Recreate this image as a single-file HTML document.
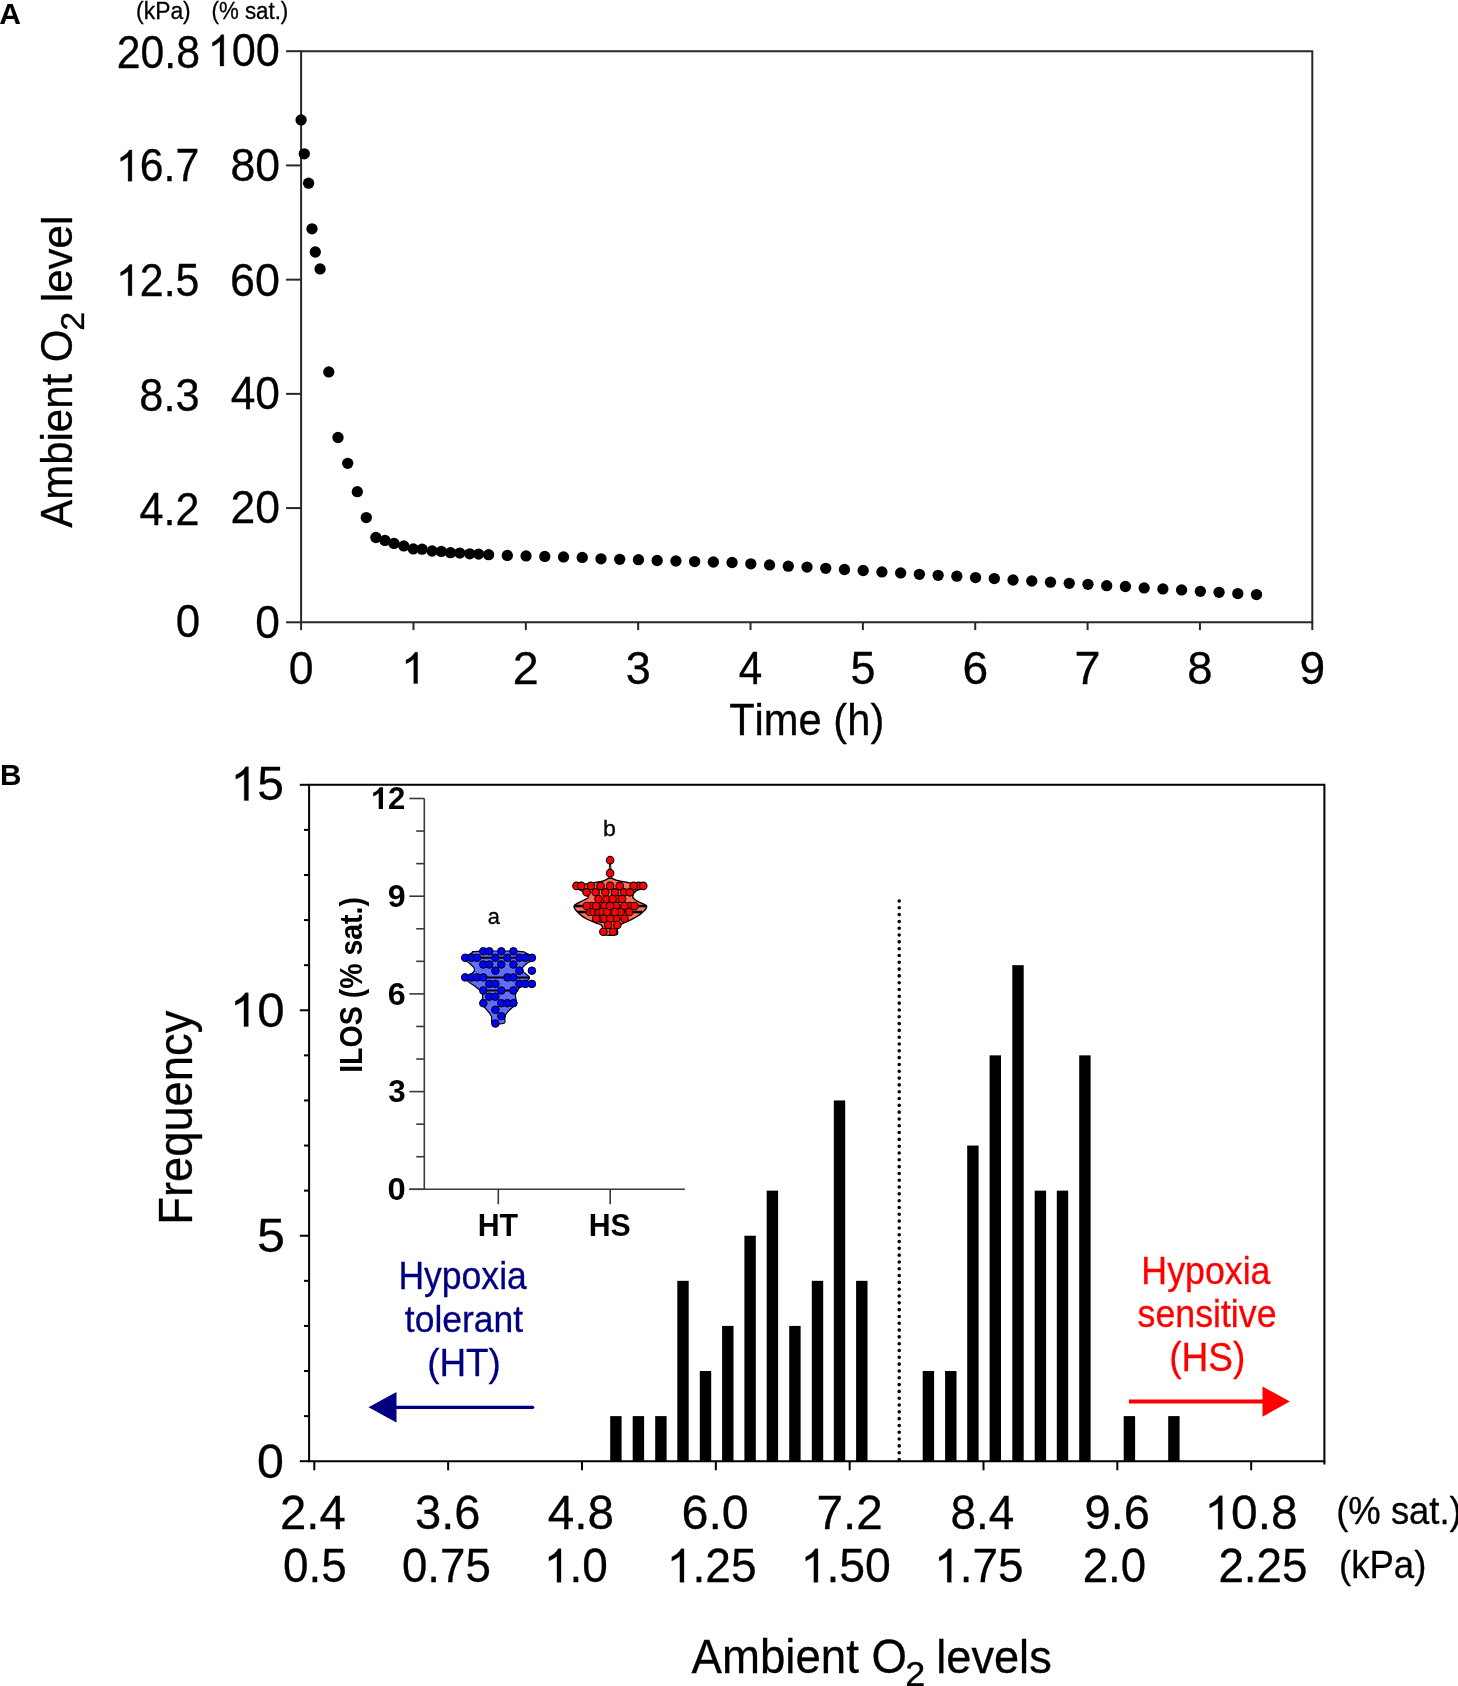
<!DOCTYPE html>
<html><head><meta charset="utf-8"><style>
html,body{margin:0;padding:0;background:#fff;}
svg{display:block;will-change:transform;}
text{font-family:"Liberation Sans",sans-serif;font-kerning:none;}
</style></head><body>
<svg width="1458" height="1686" viewBox="0 0 1458 1686">
<rect width="1458" height="1686" fill="#fff"/>
<text x="-0.75" y="23.9" font-size="29.9" font-weight="bold" fill="#000" stroke="#000" stroke-width="0.0" textLength="21.74" lengthAdjust="spacingAndGlyphs" xml:space="preserve">A</text>
<text x="136.08" y="18.7" font-size="23.5" font-weight="normal" fill="#000" stroke="#000" stroke-width="0.3" textLength="54.64" lengthAdjust="spacingAndGlyphs" xml:space="preserve">(kPa)</text>
<text x="211.52" y="18.7" font-size="23.5" font-weight="normal" fill="#000" stroke="#000" stroke-width="0.3" textLength="76.76" lengthAdjust="spacingAndGlyphs" xml:space="preserve">(% sat.)</text>
<path d="M301.1,51.2 H1312.3 V622.3 H301.1 Z" fill="none" stroke="#282828" stroke-width="2"/>
<line x1="286.1" y1="622.3" x2="301.1" y2="622.3" stroke="#282828" stroke-width="2" />
<line x1="286.1" y1="508.08" x2="301.1" y2="508.08" stroke="#282828" stroke-width="2" />
<line x1="286.1" y1="393.86" x2="301.1" y2="393.86" stroke="#282828" stroke-width="2" />
<line x1="286.1" y1="279.64" x2="301.1" y2="279.64" stroke="#282828" stroke-width="2" />
<line x1="286.1" y1="165.42" x2="301.1" y2="165.42" stroke="#282828" stroke-width="2" />
<line x1="286.1" y1="51.2" x2="301.1" y2="51.2" stroke="#282828" stroke-width="2" />
<line x1="301.1" y1="622.3" x2="301.1" y2="630.1" stroke="#282828" stroke-width="2" />
<line x1="413.46" y1="622.3" x2="413.46" y2="630.1" stroke="#282828" stroke-width="2" />
<line x1="525.81" y1="622.3" x2="525.81" y2="630.1" stroke="#282828" stroke-width="2" />
<line x1="638.17" y1="622.3" x2="638.17" y2="630.1" stroke="#282828" stroke-width="2" />
<line x1="750.52" y1="622.3" x2="750.52" y2="630.1" stroke="#282828" stroke-width="2" />
<line x1="862.88" y1="622.3" x2="862.88" y2="630.1" stroke="#282828" stroke-width="2" />
<line x1="975.23" y1="622.3" x2="975.23" y2="630.1" stroke="#282828" stroke-width="2" />
<line x1="1087.59" y1="622.3" x2="1087.59" y2="630.1" stroke="#282828" stroke-width="2" />
<line x1="1199.94" y1="622.3" x2="1199.94" y2="630.1" stroke="#282828" stroke-width="2" />
<line x1="1312.3" y1="622.3" x2="1312.3" y2="630.1" stroke="#282828" stroke-width="2" />
<text x="116.75" y="68.3" font-size="45.5" font-weight="normal" fill="#000" stroke="#000" stroke-width="0.3" textLength="83.21" lengthAdjust="spacingAndGlyphs" xml:space="preserve">20.8</text>
<path transform="translate(115.94,181.2) scale(0.02090,-0.02135)" d="M763,0 L583,0 L583,1147 Q518,1085 412,1023 Q305,961 223,930 L223,1104 Q371,1174 482,1273 Q593,1372 639,1466 L763,1466 Z" fill="#000" stroke="#000" stroke-width="0.3" vector-effect="non-scaling-stroke"/>
<text x="139.75" y="181.2" font-size="45.5" font-weight="normal" fill="#000" stroke="#000" stroke-width="0.3" textLength="59.51" lengthAdjust="spacingAndGlyphs" xml:space="preserve">6.7</text>
<path transform="translate(115.92,295.7) scale(0.02097,-0.02135)" d="M763,0 L583,0 L583,1147 Q518,1085 412,1023 Q305,961 223,930 L223,1104 Q371,1174 482,1273 Q593,1372 639,1466 L763,1466 Z" fill="#000" stroke="#000" stroke-width="0.3" vector-effect="non-scaling-stroke"/>
<text x="139.81" y="295.7" font-size="45.5" font-weight="normal" fill="#000" stroke="#000" stroke-width="0.3" textLength="59.7" lengthAdjust="spacingAndGlyphs" xml:space="preserve">2.5</text>
<text x="139.32" y="410.8" font-size="45.5" font-weight="normal" fill="#000" stroke="#000" stroke-width="0.3" textLength="60.29" lengthAdjust="spacingAndGlyphs" xml:space="preserve">8.3</text>
<text x="139.51" y="525" font-size="45.5" font-weight="normal" fill="#000" stroke="#000" stroke-width="0.3" textLength="60.06" lengthAdjust="spacingAndGlyphs" xml:space="preserve">4.2</text>
<text x="175.78" y="637.3" font-size="45.5" font-weight="normal" fill="#000" stroke="#000" stroke-width="0.3" textLength="24.43" lengthAdjust="spacingAndGlyphs" xml:space="preserve">0</text>
<path transform="translate(207.7,66) scale(0.02110,-0.02135)" d="M763,0 L583,0 L583,1147 Q518,1085 412,1023 Q305,961 223,930 L223,1104 Q371,1174 482,1273 Q593,1372 639,1466 L763,1466 Z" fill="#000" stroke="#000" stroke-width="0.3" vector-effect="non-scaling-stroke"/>
<text x="231.73" y="66" font-size="45.5" font-weight="normal" fill="#000" stroke="#000" stroke-width="0.3" textLength="48.06" lengthAdjust="spacingAndGlyphs" xml:space="preserve">00</text>
<text x="230.46" y="181" font-size="45.5" font-weight="normal" fill="#000" stroke="#000" stroke-width="0.3" textLength="49.58" lengthAdjust="spacingAndGlyphs" xml:space="preserve">80</text>
<text x="230.12" y="295.6" font-size="45.5" font-weight="normal" fill="#000" stroke="#000" stroke-width="0.3" textLength="49.93" lengthAdjust="spacingAndGlyphs" xml:space="preserve">60</text>
<text x="230.68" y="409.4" font-size="45.5" font-weight="normal" fill="#000" stroke="#000" stroke-width="0.3" textLength="49.35" lengthAdjust="spacingAndGlyphs" xml:space="preserve">40</text>
<text x="230.56" y="523.3" font-size="45.5" font-weight="normal" fill="#000" stroke="#000" stroke-width="0.3" textLength="49.47" lengthAdjust="spacingAndGlyphs" xml:space="preserve">20</text>
<text x="255.37" y="638.3" font-size="45.5" font-weight="normal" fill="#000" stroke="#000" stroke-width="0.3" textLength="24.66" lengthAdjust="spacingAndGlyphs" xml:space="preserve">0</text>
<text x="288.71" y="683.6" font-size="45.5" font-weight="normal" fill="#000" stroke="#000" stroke-width="0.3" textLength="24.78" lengthAdjust="spacingAndGlyphs" xml:space="preserve">0</text>
<path transform="translate(401.18,683.6) scale(0.02155,-0.02135)" d="M763,0 L583,0 L583,1147 Q518,1085 412,1023 Q305,961 223,930 L223,1104 Q371,1174 482,1273 Q593,1372 639,1466 L763,1466 Z" fill="#000" stroke="#000" stroke-width="0.3" vector-effect="non-scaling-stroke"/>
<text x="512.81" y="683.6" font-size="45.5" font-weight="normal" fill="#000" stroke="#000" stroke-width="0.3" textLength="26" lengthAdjust="spacingAndGlyphs" xml:space="preserve">2</text>
<text x="625.67" y="683.6" font-size="45.5" font-weight="normal" fill="#000" stroke="#000" stroke-width="0.3" textLength="24.99" lengthAdjust="spacingAndGlyphs" xml:space="preserve">3</text>
<text x="738.77" y="683.6" font-size="45.5" font-weight="normal" fill="#000" stroke="#000" stroke-width="0.3" textLength="23.51" lengthAdjust="spacingAndGlyphs" xml:space="preserve">4</text>
<text x="850.39" y="683.6" font-size="45.5" font-weight="normal" fill="#000" stroke="#000" stroke-width="0.3" textLength="24.99" lengthAdjust="spacingAndGlyphs" xml:space="preserve">5</text>
<text x="962.4" y="683.6" font-size="45.5" font-weight="normal" fill="#000" stroke="#000" stroke-width="0.3" textLength="25.67" lengthAdjust="spacingAndGlyphs" xml:space="preserve">6</text>
<text x="1074.56" y="683.6" font-size="45.5" font-weight="normal" fill="#000" stroke="#000" stroke-width="0.3" textLength="26.06" lengthAdjust="spacingAndGlyphs" xml:space="preserve">7</text>
<text x="1187.32" y="683.6" font-size="45.5" font-weight="normal" fill="#000" stroke="#000" stroke-width="0.3" textLength="25.25" lengthAdjust="spacingAndGlyphs" xml:space="preserve">8</text>
<text x="1299.48" y="683.6" font-size="45.5" font-weight="normal" fill="#000" stroke="#000" stroke-width="0.3" textLength="25.65" lengthAdjust="spacingAndGlyphs" xml:space="preserve">9</text>
<text x="729.16" y="735.1" font-size="43.8" font-weight="normal" fill="#000" stroke="#000" stroke-width="0.3" textLength="155.12" lengthAdjust="spacingAndGlyphs" xml:space="preserve">Time (h)</text>
<text transform="translate(72.2,527.7) rotate(-90)" x="-0.08" y="0" font-size="45" font-weight="normal" fill="#000" stroke="#000" stroke-width="0.3" textLength="198.29" lengthAdjust="spacingAndGlyphs">Ambient O</text>
<text transform="translate(84,329) rotate(-90)" x="-1.72" y="0" font-size="33.5" font-weight="normal" fill="#000" stroke="#000" stroke-width="0.3" textLength="19.04" lengthAdjust="spacingAndGlyphs">2</text>
<text transform="translate(71.9,299.3) rotate(-90)" x="-2.83" y="0" font-size="43.3" font-weight="normal" fill="#000" stroke="#000" stroke-width="0.3" textLength="86.34" lengthAdjust="spacingAndGlyphs">level</text>
<g fill="#000">
<circle cx="301.1" cy="119.9" r="5.65"/>
<circle cx="304.3" cy="153.8" r="5.65"/>
<circle cx="308.6" cy="183.2" r="5.65"/>
<circle cx="312" cy="228.8" r="5.65"/>
<circle cx="315.3" cy="252" r="5.65"/>
<circle cx="320.1" cy="268.9" r="5.65"/>
<circle cx="328.8" cy="371.9" r="5.65"/>
<circle cx="338" cy="437.5" r="5.65"/>
<circle cx="347.7" cy="463.3" r="5.65"/>
<circle cx="357.3" cy="491.7" r="5.65"/>
<circle cx="366.3" cy="517.6" r="5.65"/>
<circle cx="375.9" cy="537.5" r="5.65"/>
<circle cx="385" cy="540.4" r="5.65"/>
<circle cx="394" cy="543.4" r="5.65"/>
<circle cx="403.8" cy="545.9" r="5.65"/>
<circle cx="413.3" cy="548.9" r="5.65"/>
<circle cx="422.1" cy="549.2" r="5.65"/>
<circle cx="432.1" cy="551" r="5.65"/>
<circle cx="441.3" cy="551.4" r="5.65"/>
<circle cx="450.5" cy="552.7" r="5.65"/>
<circle cx="459.8" cy="553.1" r="5.65"/>
<circle cx="469.7" cy="553.8" r="5.65"/>
<circle cx="478.6" cy="554.1" r="5.65"/>
<circle cx="488.6" cy="554.7" r="5.65"/>
<circle cx="507.33" cy="555.4" r="5.65"/>
<circle cx="526.06" cy="555.9" r="5.65"/>
<circle cx="544.79" cy="556.4" r="5.65"/>
<circle cx="563.52" cy="556.9" r="5.65"/>
<circle cx="582.25" cy="557.4" r="5.65"/>
<circle cx="600.98" cy="558.8" r="5.65"/>
<circle cx="619.71" cy="559.3" r="5.65"/>
<circle cx="638.44" cy="559.7" r="5.65"/>
<circle cx="657.17" cy="560.5" r="5.65"/>
<circle cx="675.9" cy="561" r="5.65"/>
<circle cx="694.63" cy="561.6" r="5.65"/>
<circle cx="713.36" cy="562" r="5.65"/>
<circle cx="732.09" cy="562.5" r="5.65"/>
<circle cx="750.82" cy="563.8" r="5.65"/>
<circle cx="769.55" cy="564.9" r="5.65"/>
<circle cx="788.28" cy="566.2" r="5.65"/>
<circle cx="807.01" cy="567.1" r="5.65"/>
<circle cx="825.74" cy="568.3" r="5.65"/>
<circle cx="844.47" cy="569.5" r="5.65"/>
<circle cx="863.2" cy="570.5" r="5.65"/>
<circle cx="881.93" cy="571.9" r="5.65"/>
<circle cx="900.66" cy="572.9" r="5.65"/>
<circle cx="919.39" cy="574.3" r="5.65"/>
<circle cx="938.12" cy="575.3" r="5.65"/>
<circle cx="956.85" cy="576.2" r="5.65"/>
<circle cx="975.58" cy="577.6" r="5.65"/>
<circle cx="994.31" cy="578.6" r="5.65"/>
<circle cx="1013.04" cy="580" r="5.65"/>
<circle cx="1031.77" cy="581" r="5.65"/>
<circle cx="1050.5" cy="582.2" r="5.65"/>
<circle cx="1069.23" cy="583.3" r="5.65"/>
<circle cx="1087.96" cy="584.3" r="5.65"/>
<circle cx="1106.69" cy="585.7" r="5.65"/>
<circle cx="1125.42" cy="586.5" r="5.65"/>
<circle cx="1144.15" cy="587.9" r="5.65"/>
<circle cx="1162.88" cy="588.9" r="5.65"/>
<circle cx="1181.61" cy="589.9" r="5.65"/>
<circle cx="1200.34" cy="591.3" r="5.65"/>
<circle cx="1219.07" cy="592.3" r="5.65"/>
<circle cx="1237.8" cy="593.6" r="5.65"/>
<circle cx="1256.53" cy="594.6" r="5.65"/>
</g>
<text x="0.11" y="784.8" font-size="30.2" font-weight="bold" fill="#000" stroke="#000" stroke-width="0.0" textLength="21.43" lengthAdjust="spacingAndGlyphs" xml:space="preserve">B</text>
<path d="M309.1,784.8 H1324.4 V1461.2 H309.1 Z" fill="none" stroke="#000" stroke-width="2"/>
<line x1="1324.4" y1="1461.2" x2="1324.4" y2="1464.5" stroke="#000" stroke-width="2" />
<line x1="299.8" y1="1461.2" x2="309.1" y2="1461.2" stroke="#000" stroke-width="2" />
<line x1="304" y1="1416.11" x2="309.1" y2="1416.11" stroke="#000" stroke-width="2" />
<line x1="304" y1="1371.01" x2="309.1" y2="1371.01" stroke="#000" stroke-width="2" />
<line x1="304" y1="1325.92" x2="309.1" y2="1325.92" stroke="#000" stroke-width="2" />
<line x1="304" y1="1280.83" x2="309.1" y2="1280.83" stroke="#000" stroke-width="2" />
<line x1="299.8" y1="1235.73" x2="309.1" y2="1235.73" stroke="#000" stroke-width="2" />
<line x1="304" y1="1190.64" x2="309.1" y2="1190.64" stroke="#000" stroke-width="2" />
<line x1="304" y1="1145.55" x2="309.1" y2="1145.55" stroke="#000" stroke-width="2" />
<line x1="304" y1="1100.45" x2="309.1" y2="1100.45" stroke="#000" stroke-width="2" />
<line x1="304" y1="1055.36" x2="309.1" y2="1055.36" stroke="#000" stroke-width="2" />
<line x1="299.8" y1="1010.27" x2="309.1" y2="1010.27" stroke="#000" stroke-width="2" />
<line x1="304" y1="965.17" x2="309.1" y2="965.17" stroke="#000" stroke-width="2" />
<line x1="304" y1="920.08" x2="309.1" y2="920.08" stroke="#000" stroke-width="2" />
<line x1="304" y1="874.99" x2="309.1" y2="874.99" stroke="#000" stroke-width="2" />
<line x1="304" y1="829.89" x2="309.1" y2="829.89" stroke="#000" stroke-width="2" />
<line x1="299.8" y1="784.8" x2="309.1" y2="784.8" stroke="#000" stroke-width="2" />
<line x1="314.3" y1="1461.2" x2="314.3" y2="1470.3" stroke="#000" stroke-width="2" />
<line x1="448.14" y1="1461.2" x2="448.14" y2="1470.3" stroke="#000" stroke-width="2" />
<line x1="581.98" y1="1461.2" x2="581.98" y2="1470.3" stroke="#000" stroke-width="2" />
<line x1="715.82" y1="1461.2" x2="715.82" y2="1470.3" stroke="#000" stroke-width="2" />
<line x1="849.66" y1="1461.2" x2="849.66" y2="1470.3" stroke="#000" stroke-width="2" />
<line x1="983.5" y1="1461.2" x2="983.5" y2="1470.3" stroke="#000" stroke-width="2" />
<line x1="1117.34" y1="1461.2" x2="1117.34" y2="1470.3" stroke="#000" stroke-width="2" />
<line x1="1251.18" y1="1461.2" x2="1251.18" y2="1470.3" stroke="#000" stroke-width="2" />
<path transform="translate(230.58,800.4) scale(0.02341,-0.02295)" d="M763,0 L583,0 L583,1147 Q518,1085 412,1023 Q305,961 223,930 L223,1104 Q371,1174 482,1273 Q593,1372 639,1466 L763,1466 Z" fill="#000" stroke="#000" stroke-width="0.3" vector-effect="non-scaling-stroke"/>
<text x="257.25" y="800.4" font-size="48.9" font-weight="normal" fill="#000" stroke="#000" stroke-width="0.3" textLength="26.67" lengthAdjust="spacingAndGlyphs" xml:space="preserve">5</text>
<path transform="translate(229.94,1026.5) scale(0.02405,-0.02295)" d="M763,0 L583,0 L583,1147 Q518,1085 412,1023 Q305,961 223,930 L223,1104 Q371,1174 482,1273 Q593,1372 639,1466 L763,1466 Z" fill="#000" stroke="#000" stroke-width="0.3" vector-effect="non-scaling-stroke"/>
<text x="257.33" y="1026.5" font-size="48.9" font-weight="normal" fill="#000" stroke="#000" stroke-width="0.3" textLength="27.39" lengthAdjust="spacingAndGlyphs" xml:space="preserve">0</text>
<text x="256.99" y="1252.2" font-size="48.9" font-weight="normal" fill="#000" stroke="#000" stroke-width="0.3" textLength="27.92" lengthAdjust="spacingAndGlyphs" xml:space="preserve">5</text>
<text x="257.11" y="1477.5" font-size="48.9" font-weight="normal" fill="#000" stroke="#000" stroke-width="0.3" textLength="26.88" lengthAdjust="spacingAndGlyphs" xml:space="preserve">0</text>
<text transform="translate(191.9,1221.1) rotate(-90)" x="-3.72" y="0" font-size="48" font-weight="normal" fill="#000" stroke="#000" stroke-width="0.3" textLength="214.21" lengthAdjust="spacingAndGlyphs">Frequency</text>
<text x="280.12" y="1529.3" font-size="48.8" font-weight="normal" fill="#000" stroke="#000" stroke-width="0.3" textLength="65.66" lengthAdjust="spacingAndGlyphs" xml:space="preserve">2.4</text>
<text x="415.11" y="1529.3" font-size="48.8" font-weight="normal" fill="#000" stroke="#000" stroke-width="0.3" textLength="65.36" lengthAdjust="spacingAndGlyphs" xml:space="preserve">3.6</text>
<text x="547.81" y="1529.3" font-size="48.8" font-weight="normal" fill="#000" stroke="#000" stroke-width="0.3" textLength="66.27" lengthAdjust="spacingAndGlyphs" xml:space="preserve">4.8</text>
<text x="681.44" y="1529.3" font-size="48.8" font-weight="normal" fill="#000" stroke="#000" stroke-width="0.3" textLength="67.35" lengthAdjust="spacingAndGlyphs" xml:space="preserve">6.0</text>
<text x="816.46" y="1529.3" font-size="48.8" font-weight="normal" fill="#000" stroke="#000" stroke-width="0.3" textLength="66.24" lengthAdjust="spacingAndGlyphs" xml:space="preserve">7.2</text>
<text x="950.5" y="1529.3" font-size="48.8" font-weight="normal" fill="#000" stroke="#000" stroke-width="0.3" textLength="63.84" lengthAdjust="spacingAndGlyphs" xml:space="preserve">8.4</text>
<text x="1084.59" y="1529.3" font-size="48.8" font-weight="normal" fill="#000" stroke="#000" stroke-width="0.3" textLength="65.48" lengthAdjust="spacingAndGlyphs" xml:space="preserve">9.6</text>
<path transform="translate(1204.49,1529.3) scale(0.02338,-0.02290)" d="M763,0 L583,0 L583,1147 Q518,1085 412,1023 Q305,961 223,930 L223,1104 Q371,1174 482,1273 Q593,1372 639,1466 L763,1466 Z" fill="#000" stroke="#000" stroke-width="0.3" vector-effect="non-scaling-stroke"/>
<text x="1231.12" y="1529.3" font-size="48.8" font-weight="normal" fill="#000" stroke="#000" stroke-width="0.3" textLength="66.56" lengthAdjust="spacingAndGlyphs" xml:space="preserve">0.8</text>
<text x="283.11" y="1582.3" font-size="48.8" font-weight="normal" fill="#000" stroke="#000" stroke-width="0.3" textLength="63.72" lengthAdjust="spacingAndGlyphs" xml:space="preserve">0.5</text>
<text x="401.92" y="1582.3" font-size="48.8" font-weight="normal" fill="#000" stroke="#000" stroke-width="0.3" textLength="88.9" lengthAdjust="spacingAndGlyphs" xml:space="preserve">0.75</text>
<path transform="translate(543.89,1582.3) scale(0.02244,-0.02290)" d="M763,0 L583,0 L583,1147 Q518,1085 412,1023 Q305,961 223,930 L223,1104 Q371,1174 482,1273 Q593,1372 639,1466 L763,1466 Z" fill="#000" stroke="#000" stroke-width="0.3" vector-effect="non-scaling-stroke"/>
<text x="569.46" y="1582.3" font-size="48.8" font-weight="normal" fill="#000" stroke="#000" stroke-width="0.3" textLength="38.34" lengthAdjust="spacingAndGlyphs" xml:space="preserve">.0</text>
<path transform="translate(666.78,1582.3) scale(0.02252,-0.02290)" d="M763,0 L583,0 L583,1147 Q518,1085 412,1023 Q305,961 223,930 L223,1104 Q371,1174 482,1273 Q593,1372 639,1466 L763,1466 Z" fill="#000" stroke="#000" stroke-width="0.3" vector-effect="non-scaling-stroke"/>
<text x="692.43" y="1582.3" font-size="48.8" font-weight="normal" fill="#000" stroke="#000" stroke-width="0.3" textLength="64.11" lengthAdjust="spacingAndGlyphs" xml:space="preserve">.25</text>
<path transform="translate(800.65,1582.3) scale(0.02264,-0.02290)" d="M763,0 L583,0 L583,1147 Q518,1085 412,1023 Q305,961 223,930 L223,1104 Q371,1174 482,1273 Q593,1372 639,1466 L763,1466 Z" fill="#000" stroke="#000" stroke-width="0.3" vector-effect="non-scaling-stroke"/>
<text x="826.44" y="1582.3" font-size="48.8" font-weight="normal" fill="#000" stroke="#000" stroke-width="0.3" textLength="64.47" lengthAdjust="spacingAndGlyphs" xml:space="preserve">.50</text>
<path transform="translate(934.21,1582.3) scale(0.02238,-0.02290)" d="M763,0 L583,0 L583,1147 Q518,1085 412,1023 Q305,961 223,930 L223,1104 Q371,1174 482,1273 Q593,1372 639,1466 L763,1466 Z" fill="#000" stroke="#000" stroke-width="0.3" vector-effect="non-scaling-stroke"/>
<text x="959.7" y="1582.3" font-size="48.8" font-weight="normal" fill="#000" stroke="#000" stroke-width="0.3" textLength="63.72" lengthAdjust="spacingAndGlyphs" xml:space="preserve">.75</text>
<text x="1082.7" y="1582.3" font-size="48.8" font-weight="normal" fill="#000" stroke="#000" stroke-width="0.3" textLength="63.48" lengthAdjust="spacingAndGlyphs" xml:space="preserve">2.0</text>
<text x="1218.4" y="1582.3" font-size="48.8" font-weight="normal" fill="#000" stroke="#000" stroke-width="0.3" textLength="89.13" lengthAdjust="spacingAndGlyphs" xml:space="preserve">2.25</text>
<text x="1336.24" y="1523.5" font-size="38.5" font-weight="normal" fill="#000" stroke="#000" stroke-width="0.3" textLength="125.52" lengthAdjust="spacingAndGlyphs" xml:space="preserve">(% sat.)</text>
<text x="1339.03" y="1577.5" font-size="38.5" font-weight="normal" fill="#000" stroke="#000" stroke-width="0.3" textLength="87.33" lengthAdjust="spacingAndGlyphs" xml:space="preserve">(kPa)</text>
<text x="691.61" y="1672.8" font-size="48.5" font-weight="normal" fill="#000" stroke="#000" stroke-width="0.3" textLength="215.37" lengthAdjust="spacingAndGlyphs" xml:space="preserve">Ambient O</text>
<text x="905.19" y="1685.5" font-size="34.5" font-weight="normal" fill="#000" stroke="#000" stroke-width="0.3" textLength="20.02" lengthAdjust="spacingAndGlyphs" xml:space="preserve">2</text>
<text x="936.26" y="1672.8" font-size="46.8" font-weight="normal" fill="#000" stroke="#000" stroke-width="0.3" textLength="115.48" lengthAdjust="spacingAndGlyphs" xml:space="preserve">levels</text>
<g fill="#000">
<rect x="610.2" y="1416.11" width="11.4" height="45.09"/>
<rect x="632.7" y="1416.11" width="11.4" height="45.09"/>
<rect x="655.2" y="1416.11" width="11.4" height="45.09"/>
<rect x="677.3" y="1280.83" width="11.4" height="180.37"/>
<rect x="699.8" y="1371.01" width="11.4" height="90.19"/>
<rect x="722.1" y="1325.92" width="11.4" height="135.28"/>
<rect x="744.4" y="1235.73" width="11.4" height="225.47"/>
<rect x="766.7" y="1190.64" width="11.4" height="270.56"/>
<rect x="789.2" y="1325.92" width="11.4" height="135.28"/>
<rect x="811.8" y="1280.83" width="11.4" height="180.37"/>
<rect x="833.8" y="1100.45" width="11.4" height="360.75"/>
<rect x="856.1" y="1280.83" width="11.4" height="180.37"/>
<rect x="922.7" y="1371.01" width="11.4" height="90.19"/>
<rect x="945.1" y="1371.01" width="11.4" height="90.19"/>
<rect x="967.2" y="1145.55" width="11.4" height="315.65"/>
<rect x="989.6" y="1055.36" width="11.4" height="405.84"/>
<rect x="1012.3" y="965.17" width="11.4" height="496.03"/>
<rect x="1034.7" y="1190.64" width="11.4" height="270.56"/>
<rect x="1056.8" y="1190.64" width="11.4" height="270.56"/>
<rect x="1079.2" y="1055.36" width="11.4" height="405.84"/>
<rect x="1123.7" y="1416.11" width="11.4" height="45.09"/>
<rect x="1168.2" y="1416.11" width="11.4" height="45.09"/>
</g>
<line x1="899.2" y1="901" x2="899.2" y2="1461" stroke="#000" stroke-width="3.6" stroke-linecap="round" stroke-dasharray="0 6.811"/>
<line x1="396" y1="1407.3" x2="532.7" y2="1407.3" stroke="#000080" stroke-width="3.2" stroke-linecap="round"/>
<path d="M368.5,1407.3 L396.5,1392.1 L396.5,1422.4 Z" fill="#000080"/>
<line x1="1129" y1="1401.5" x2="1263" y2="1401.5" stroke="#FF0000" stroke-width="3.8"/>
<path d="M1289.9,1401.5 L1262.5,1386.5 L1262.5,1416.8 Z" fill="#FF0000"/>
<text x="398.38" y="1289.1" font-size="38.2" font-weight="normal" fill="#000080" stroke="#000080" stroke-width="0.3" textLength="128.42" lengthAdjust="spacingAndGlyphs" xml:space="preserve">Hypoxia</text>
<text x="404.86" y="1332.3" font-size="37.6" font-weight="normal" fill="#000080" stroke="#000080" stroke-width="0.3" textLength="118.2" lengthAdjust="spacingAndGlyphs" xml:space="preserve">tolerant</text>
<text x="427.21" y="1376" font-size="39" font-weight="normal" fill="#000080" stroke="#000080" stroke-width="0.3" textLength="73.67" lengthAdjust="spacingAndGlyphs" xml:space="preserve">(HT)</text>
<text x="1141.37" y="1284" font-size="38.8" font-weight="normal" fill="#FF0000" stroke="#FF0000" stroke-width="0.3" textLength="129.13" lengthAdjust="spacingAndGlyphs" xml:space="preserve">Hypoxia</text>
<text x="1137.61" y="1327.1" font-size="38" font-weight="normal" fill="#FF0000" stroke="#FF0000" stroke-width="0.3" textLength="138.88" lengthAdjust="spacingAndGlyphs" xml:space="preserve">sensitive</text>
<text x="1169.2" y="1370.7" font-size="39.8" font-weight="normal" fill="#FF0000" stroke="#FF0000" stroke-width="0.3" textLength="76.09" lengthAdjust="spacingAndGlyphs" xml:space="preserve">(HS)</text>
<path d="M424.3,798.5 V1189.3 H684.9 M409.3,1189.3 H424.3" fill="none" stroke="#3a3a3a" stroke-width="1.6"/>
<line x1="409.3" y1="1189.3" x2="424.3" y2="1189.3" stroke="#3a3a3a" stroke-width="1.6" />
<line x1="416.2" y1="1156.73" x2="424.3" y2="1156.73" stroke="#3a3a3a" stroke-width="1.6" />
<line x1="416.2" y1="1124.17" x2="424.3" y2="1124.17" stroke="#3a3a3a" stroke-width="1.6" />
<line x1="409.3" y1="1091.6" x2="424.3" y2="1091.6" stroke="#3a3a3a" stroke-width="1.6" />
<line x1="416.2" y1="1059.03" x2="424.3" y2="1059.03" stroke="#3a3a3a" stroke-width="1.6" />
<line x1="416.2" y1="1026.47" x2="424.3" y2="1026.47" stroke="#3a3a3a" stroke-width="1.6" />
<line x1="409.3" y1="993.9" x2="424.3" y2="993.9" stroke="#3a3a3a" stroke-width="1.6" />
<line x1="416.2" y1="961.33" x2="424.3" y2="961.33" stroke="#3a3a3a" stroke-width="1.6" />
<line x1="416.2" y1="928.77" x2="424.3" y2="928.77" stroke="#3a3a3a" stroke-width="1.6" />
<line x1="409.3" y1="896.2" x2="424.3" y2="896.2" stroke="#3a3a3a" stroke-width="1.6" />
<line x1="416.2" y1="863.63" x2="424.3" y2="863.63" stroke="#3a3a3a" stroke-width="1.6" />
<line x1="416.2" y1="831.07" x2="424.3" y2="831.07" stroke="#3a3a3a" stroke-width="1.6" />
<line x1="409.3" y1="798.5" x2="424.3" y2="798.5" stroke="#3a3a3a" stroke-width="1.6" />
<line x1="498.3" y1="1189.3" x2="498.3" y2="1204.2" stroke="#3a3a3a" stroke-width="1.6" />
<line x1="610.2" y1="1189.3" x2="610.2" y2="1204.2" stroke="#3a3a3a" stroke-width="1.6" />
<path transform="translate(370.74,809.1) scale(0.01519,-0.01488)" d="M806,0 L525,0 L525,1059 Q371,915 162,846 L162,1101 Q272,1137 401,1238 Q530,1339 578,1466 L806,1466 Z" fill="#000" stroke="#000" stroke-width="0.0" vector-effect="non-scaling-stroke"/>
<text x="388.04" y="809.1" font-size="31.7" font-weight="bold" fill="#000" stroke="#000" stroke-width="0.0" textLength="17.3" lengthAdjust="spacingAndGlyphs" xml:space="preserve">2</text>
<text x="387.78" y="907" font-size="31.7" font-weight="bold" fill="#000" stroke="#000" stroke-width="0.0" textLength="17.91" lengthAdjust="spacingAndGlyphs" xml:space="preserve">9</text>
<text x="387.72" y="1004.7" font-size="31.7" font-weight="bold" fill="#000" stroke="#000" stroke-width="0.0" textLength="17.95" lengthAdjust="spacingAndGlyphs" xml:space="preserve">6</text>
<text x="388.18" y="1102.4" font-size="31.7" font-weight="bold" fill="#000" stroke="#000" stroke-width="0.0" textLength="17.45" lengthAdjust="spacingAndGlyphs" xml:space="preserve">3</text>
<text x="387.6" y="1200.1" font-size="31.7" font-weight="bold" fill="#000" stroke="#000" stroke-width="0.0" textLength="18.24" lengthAdjust="spacingAndGlyphs" xml:space="preserve">0</text>
<text transform="translate(362,1070.9) rotate(-90)" x="-1.91" y="0" font-size="31.8" font-weight="bold" fill="#000" stroke="#000" stroke-width="0.0" textLength="175.83" lengthAdjust="spacingAndGlyphs">ILOS (% sat.)</text>
<text x="477.67" y="1235.9" font-size="30.7" font-weight="bold" fill="#000" stroke="#000" stroke-width="0.0" textLength="40.46" lengthAdjust="spacingAndGlyphs" xml:space="preserve">HT</text>
<text x="588.68" y="1235.9" font-size="30.7" font-weight="bold" fill="#000" stroke="#000" stroke-width="0.0" textLength="42" lengthAdjust="spacingAndGlyphs" xml:space="preserve">HS</text>
<text x="487.87" y="924" font-size="22" font-weight="normal" fill="#000" stroke="#000" stroke-width="0.3" textLength="12.13" lengthAdjust="spacingAndGlyphs" xml:space="preserve">a</text>
<text x="603.11" y="835.8" font-size="22" font-weight="normal" fill="#000" stroke="#000" stroke-width="0.3" textLength="12.86" lengthAdjust="spacingAndGlyphs" xml:space="preserve">b</text>
<path d="M466.11,956.43 C467.45,955.54 470.05,953.71 471.91,952.86 C473.77,952.02 469.38,951.6 477.26,951.35 C485.13,951.09 511.14,951.09 519.17,951.35 C527.19,951.6 523.4,952.09 525.41,952.86 C527.41,953.64 530.16,954.72 531.2,955.98 C532.24,957.25 532.32,959.25 531.65,960.44 C530.98,961.63 528.68,961.93 527.19,963.12 C525.71,964.31 523.33,966.09 522.73,967.57 C522.14,969.06 522.73,970.7 523.62,972.03 C524.52,973.37 527.12,974.56 528.08,975.6 C529.05,976.64 529.87,977.09 529.42,978.27 C528.97,979.46 527.12,981.1 525.41,982.73 C523.7,984.37 520.8,986.3 519.17,988.08 C517.53,989.87 516.19,991.95 515.6,993.43 C515.01,994.92 515.45,995.22 515.6,997 C515.75,998.78 517.09,1002.35 516.49,1004.13 C515.9,1005.92 513.67,1006.21 512.03,1007.7 C510.4,1009.19 507.87,1011.41 506.68,1013.05 C505.49,1014.68 505.35,1015.8 504.9,1017.51 C504.45,1019.22 506.09,1022.34 504.01,1023.3 C501.93,1024.27 494.5,1024.42 492.42,1023.3 C490.34,1022.19 492.27,1018.62 491.52,1016.62 C490.78,1014.61 489.3,1013.05 487.96,1011.27 C486.62,1009.48 484.54,1007.55 483.5,1005.92 C482.46,1004.28 481.87,1002.94 481.72,1001.46 C481.57,999.97 482.61,998.49 482.61,997 C482.61,995.51 482.76,994.18 481.72,992.54 C480.68,990.91 478.6,988.97 476.37,987.19 C474.14,985.41 470.12,983.4 468.34,981.84 C466.56,980.28 465.52,978.87 465.67,977.83 C465.82,976.79 467.82,976.71 469.23,975.6 C470.64,974.49 473.39,972.48 474.14,971.14 C474.88,969.8 474.36,968.76 473.69,967.57 C473.02,966.39 471.46,965.2 470.12,964.01 C468.79,962.82 466.71,961.41 465.67,960.44 C464.63,959.48 463.81,958.88 463.88,958.21 C463.96,957.54 464.77,957.32 466.11,956.43 Z" fill="#5F6EFB" stroke="#000" stroke-width="1.2" stroke-linejoin="round"/>
<line x1="465.67" y1="957.77" x2="530.76" y2="957.77" stroke="#000" stroke-width="2.0" />
<line x1="465.67" y1="977.38" x2="528.97" y2="977.38" stroke="#000" stroke-width="2.0" />
<line x1="479.93" y1="990.49" x2="518.27" y2="990.49" stroke="#000" stroke-width="2.0" />
<g fill="#0000FF" stroke="#000" stroke-width="1">
<circle cx="483.3" cy="951.3" r="3.8"/>
<circle cx="489.3" cy="951.3" r="3.8"/>
<circle cx="501.3" cy="951.3" r="3.8"/>
<circle cx="513.4" cy="951.3" r="3.8"/>
<circle cx="465.2" cy="957.8" r="3.8"/>
<circle cx="471.5" cy="957.8" r="3.8"/>
<circle cx="477.0" cy="957.8" r="3.8"/>
<circle cx="495.4" cy="957.8" r="3.8"/>
<circle cx="507.4" cy="957.8" r="3.8"/>
<circle cx="519.4" cy="957.8" r="3.8"/>
<circle cx="525.4" cy="957.8" r="3.8"/>
<circle cx="531.9" cy="957.8" r="3.8"/>
<circle cx="483.3" cy="964.5" r="3.8"/>
<circle cx="489.3" cy="964.5" r="3.8"/>
<circle cx="501.3" cy="964.5" r="3.8"/>
<circle cx="513.4" cy="964.5" r="3.8"/>
<circle cx="495.4" cy="970.7" r="3.8"/>
<circle cx="519.4" cy="970.7" r="3.8"/>
<circle cx="531.9" cy="970.7" r="3.8"/>
<circle cx="465.2" cy="977.4" r="3.8"/>
<circle cx="471.5" cy="977.4" r="3.8"/>
<circle cx="477.0" cy="977.4" r="3.8"/>
<circle cx="483.3" cy="977.4" r="3.8"/>
<circle cx="507.4" cy="977.4" r="3.8"/>
<circle cx="513.4" cy="977.4" r="3.8"/>
<circle cx="489.3" cy="983.9" r="3.8"/>
<circle cx="495.4" cy="983.9" r="3.8"/>
<circle cx="519.4" cy="983.9" r="3.8"/>
<circle cx="525.4" cy="983.9" r="3.8"/>
<circle cx="531.9" cy="983.9" r="3.8"/>
<circle cx="483.3" cy="990.5" r="3.8"/>
<circle cx="501.3" cy="990.5" r="3.8"/>
<circle cx="513.4" cy="990.5" r="3.8"/>
<circle cx="489.3" cy="996.7" r="3.8"/>
<circle cx="495.4" cy="996.7" r="3.8"/>
<circle cx="483.3" cy="1003.2" r="3.8"/>
<circle cx="501.3" cy="1003.2" r="3.8"/>
<circle cx="507.4" cy="1003.2" r="3.8"/>
<circle cx="513.4" cy="1003.2" r="3.8"/>
<circle cx="495.4" cy="1009.8" r="3.8"/>
<circle cx="501.3" cy="1016.2" r="3.8"/>
<circle cx="495.4" cy="1023.5" r="3.8"/>
</g>
<path d="M610.1,877.93 C607.86,878.01 606.1,880.01 603.38,880.81 C600.66,881.61 597.13,882.14 593.77,882.73 C590.41,883.32 586.41,883.87 583.21,884.36 C580.01,884.86 575.37,884.94 574.57,885.71 C573.77,886.48 576.65,887.71 578.41,888.97 C580.17,890.24 583.45,891.89 585.13,893.29 C586.81,894.7 588.81,896.22 588.49,897.42 C588.17,898.62 585.61,899.06 583.21,900.5 C580.81,901.94 574.89,903.98 574.09,906.06 C573.29,908.15 576.41,910.87 578.41,912.98 C580.41,915.09 583.21,917.11 586.09,918.74 C588.97,920.37 593.13,921.68 595.69,922.77 C598.25,923.86 600.26,924.18 601.46,925.27 C602.66,926.36 602.58,927.75 602.9,929.3 C603.22,930.86 601.06,933.7 603.38,934.58 C605.7,935.46 614.5,935.54 616.82,934.58 C619.14,933.62 616.5,930.58 617.3,928.82 C618.1,927.06 619.3,925.54 621.62,924.02 C623.94,922.5 627.86,921.54 631.22,919.7 C634.58,917.86 639.23,915.22 641.79,912.98 C644.35,910.74 647.39,908.26 646.59,906.26 C645.79,904.26 639.31,902.58 636.98,900.98 C634.66,899.38 632.82,898.33 632.66,896.65 C632.5,894.97 633.7,892.69 636.02,890.89 C638.35,889.1 646.59,887.02 646.59,885.9 C646.59,884.78 639.39,884.78 636.02,884.17 C632.66,883.56 629.62,882.89 626.42,882.25 C623.22,881.61 619.54,881.05 616.82,880.33 C614.1,879.61 612.34,877.85 610.1,877.93 Z" fill="#FF6F5E" stroke="#000" stroke-width="1.4" stroke-linejoin="round"/>
<path d="M609.81,862.09 L610.39,862.09 L611.83,878.41 L608.37,878.41 Z" fill="#FF6F5E" stroke="#000" stroke-width="0.9"/>
<line x1="574.09" y1="906.06" x2="646.59" y2="906.06" stroke="#000" stroke-width="2.4" />
<line x1="577.93" y1="912.02" x2="642.27" y2="912.02" stroke="#000" stroke-width="2.4" />
<g fill="#FF0000" stroke="#000" stroke-width="1.1">
<circle cx="638.91" cy="885.9" r="3.75"/>
<circle cx="606.26" cy="899.06" r="3.75"/>
<circle cx="618.26" cy="899.06" r="3.75"/>
<circle cx="591.85" cy="906.06" r="3.75"/>
<circle cx="601.46" cy="906.06" r="3.75"/>
<circle cx="604.34" cy="906.06" r="3.75"/>
<circle cx="615.86" cy="906.06" r="3.75"/>
<circle cx="629.78" cy="906.06" r="3.75"/>
<circle cx="589.93" cy="912.02" r="3.75"/>
<circle cx="593.77" cy="912.02" r="3.75"/>
<circle cx="598.57" cy="912.02" r="3.75"/>
<circle cx="602.42" cy="912.02" r="3.75"/>
<circle cx="607.22" cy="912.02" r="3.75"/>
<circle cx="620.66" cy="912.02" r="3.75"/>
<circle cx="601.46" cy="918.74" r="3.75"/>
<circle cx="604.34" cy="918.74" r="3.75"/>
<circle cx="615.86" cy="918.74" r="3.75"/>
<circle cx="610.1" cy="860.17" r="3.75"/>
<circle cx="610.1" cy="873.13" r="3.75"/>
<circle cx="576.49" cy="885.9" r="3.75"/>
<circle cx="581.29" cy="885.9" r="3.75"/>
<circle cx="590.89" cy="885.9" r="3.75"/>
<circle cx="600.5" cy="885.9" r="3.75"/>
<circle cx="610.1" cy="885.9" r="3.75"/>
<circle cx="619.7" cy="885.9" r="3.75"/>
<circle cx="633.62" cy="885.9" r="3.75"/>
<circle cx="643.23" cy="885.9" r="3.75"/>
<circle cx="586.57" cy="892.33" r="3.75"/>
<circle cx="595.69" cy="892.33" r="3.75"/>
<circle cx="605.3" cy="892.33" r="3.75"/>
<circle cx="614.9" cy="892.33" r="3.75"/>
<circle cx="624.02" cy="892.33" r="3.75"/>
<circle cx="629.78" cy="892.33" r="3.75"/>
<circle cx="598.57" cy="899.06" r="3.75"/>
<circle cx="612.5" cy="899.06" r="3.75"/>
<circle cx="622.1" cy="899.06" r="3.75"/>
<circle cx="586.76" cy="906.06" r="3.75"/>
<circle cx="596.17" cy="906.06" r="3.75"/>
<circle cx="610.1" cy="906.06" r="3.75"/>
<circle cx="624.5" cy="906.06" r="3.75"/>
<circle cx="634.58" cy="906.06" r="3.75"/>
<circle cx="614.9" cy="912.02" r="3.75"/>
<circle cx="629.3" cy="912.02" r="3.75"/>
<circle cx="596.17" cy="918.74" r="3.75"/>
<circle cx="610.1" cy="918.74" r="3.75"/>
<circle cx="624.5" cy="918.74" r="3.75"/>
<circle cx="608.18" cy="924.98" r="3.75"/>
<circle cx="617.3" cy="924.98" r="3.75"/>
<circle cx="603.38" cy="931.7" r="3.75"/>
<circle cx="612.98" cy="931.7" r="3.75"/>
</g>
</svg></body></html>
